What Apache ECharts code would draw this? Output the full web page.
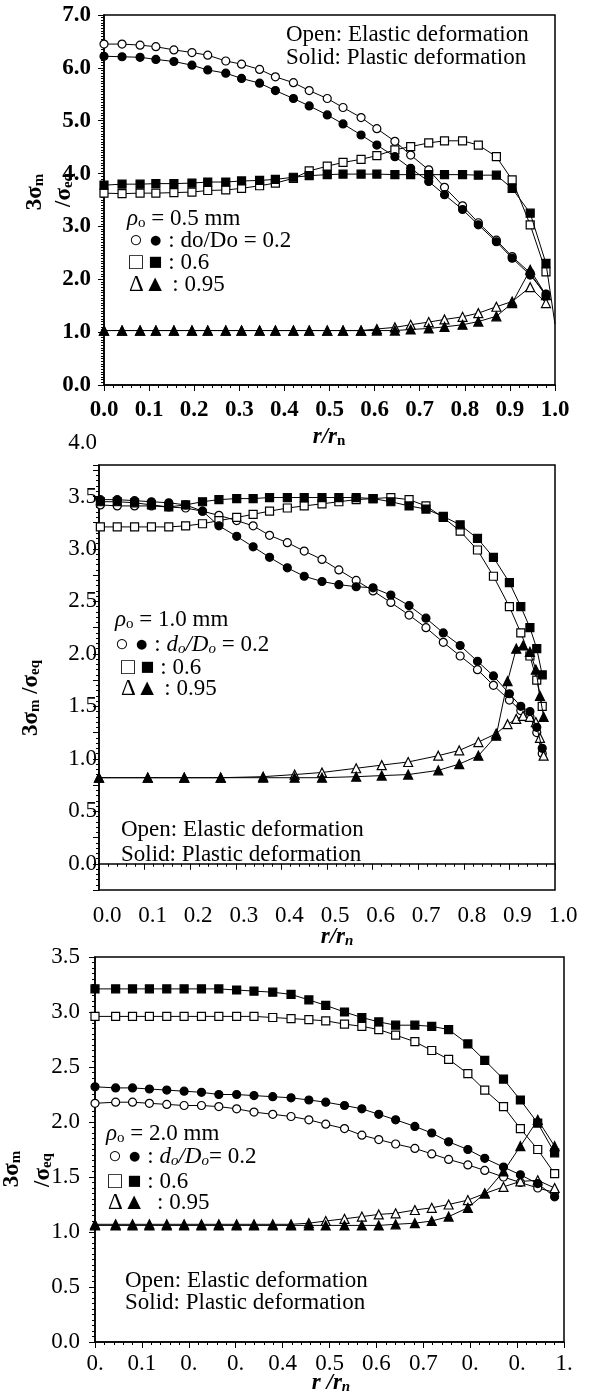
<!DOCTYPE html>
<html>
<head>
<meta charset="UTF-8">
<title>3σm/σeq vs r/rn</title>
<script src="https://cdn.jsdelivr.net/npm/echarts@6.0.0/dist/echarts.min.js"></script>
<style>
  html, body { margin: 0; padding: 0; background: #fff; }
  #main { width: 594px; height: 1399px; }
</style>
</head>
<body>
<div id="main"></div>
<script>
// ---- panel 1 : rho_o = 0.5 mm ----
var P1_R = [0.00,0.04,0.08,0.115,0.155,0.195,0.23,0.27,0.305,0.345,0.38,0.42,0.455,0.495,0.53,0.57,0.605,0.645,0.68,0.72,0.755,0.795,0.83,0.87,0.905,0.945,0.98];
var P1_OPEN_CIRCLE  = [6.45,6.45,6.43,6.40,6.34,6.29,6.24,6.13,6.07,5.97,5.83,5.72,5.57,5.42,5.25,5.06,4.85,4.61,4.35,4.07,3.74,3.39,3.07,2.74,2.43,2.12,1.68];
var P1_SOLID_CIRCLE = [6.22,6.21,6.20,6.16,6.12,6.05,5.96,5.90,5.80,5.71,5.57,5.42,5.28,5.11,4.94,4.73,4.54,4.32,4.10,3.85,3.60,3.32,3.03,2.71,2.40,2.08,1.72];
var P1_OPEN_SQUARE  = [3.63,3.62,3.63,3.63,3.64,3.65,3.68,3.69,3.72,3.77,3.82,3.91,4.05,4.14,4.21,4.27,4.34,4.45,4.51,4.58,4.62,4.62,4.54,4.32,3.88,3.03,2.14];
var P1_SOLID_SQUARE = [3.78,3.80,3.80,3.81,3.81,3.82,3.84,3.84,3.86,3.87,3.89,3.93,3.96,3.98,3.99,3.99,3.99,3.98,3.98,3.98,3.98,3.98,3.97,3.97,3.72,3.25,2.30];
var P1_OPEN_TRI     = [1.03,1.03,1.03,1.03,1.03,1.03,1.03,1.03,1.03,1.03,1.03,1.03,1.03,1.03,1.03,1.03,1.06,1.09,1.14,1.19,1.24,1.29,1.36,1.48,1.58,1.85,1.55];
var P1_SOLID_TRI    = [1.03,1.03,1.03,1.03,1.03,1.03,1.03,1.03,1.03,1.03,1.03,1.03,1.03,1.03,1.03,1.03,1.03,1.03,1.05,1.07,1.10,1.14,1.20,1.30,1.55,2.18,1.70];
// last segment of the solid-square curve runs on to the right border
var P1_SQUARE_TAIL = [1.0, 1.15];

// ---- panel 2 : rho_o = 1.0 mm ----
var P2_R = [0.003,0.04,0.078,0.115,0.153,0.19,0.227,0.263,0.302,0.338,0.374,0.413,0.45,0.489,0.526,0.564,0.601,0.64,0.68,0.717,0.755,0.792,0.83,0.865,0.9,0.925,0.945,0.96,0.972];
var P2_OPEN_CIRCLE  = [3.42,3.41,3.41,3.41,3.40,3.39,3.36,3.32,3.27,3.22,3.13,3.06,2.98,2.90,2.80,2.70,2.60,2.49,2.37,2.25,2.11,1.98,1.85,1.70,1.56,1.46,1.40,1.25,1.05];
var P2_SOLID_CIRCLE = [3.47,3.47,3.46,3.45,3.44,3.42,3.36,3.22,3.12,3.02,2.92,2.82,2.74,2.69,2.66,2.64,2.63,2.56,2.46,2.34,2.20,2.08,1.93,1.79,1.62,1.50,1.45,1.30,1.10];
var P2_OPEN_SQUARE  = [3.21,3.21,3.21,3.21,3.21,3.22,3.24,3.27,3.30,3.33,3.36,3.39,3.41,3.43,3.45,3.47,3.48,3.49,3.47,3.41,3.30,3.17,2.99,2.74,2.45,2.20,1.98,1.75,1.50];
var P2_SOLID_SQUARE = [3.45,3.45,3.44,3.42,3.40,3.42,3.45,3.47,3.48,3.48,3.49,3.49,3.49,3.49,3.49,3.49,3.48,3.45,3.41,3.38,3.31,3.23,3.10,2.92,2.68,2.45,2.25,2.05,1.80];
var P2_TRI_R = [0.0,0.107,0.187,0.267,0.36,0.429,0.489,0.564,0.62,0.678,0.744,0.79,0.832,0.871,0.896,0.915,0.93,0.945,0.958,0.967,0.975];
var P2_OPEN_TRI  = [0.82,0.82,0.82,0.82,0.83,0.85,0.87,0.91,0.94,0.97,1.03,1.08,1.16,1.24,1.33,1.38,1.41,1.40,1.35,1.20,1.03];
var P2_SOLID_TRI = [0.82,0.82,0.82,0.82,0.82,0.82,0.82,0.83,0.84,0.85,0.89,0.95,1.03,1.22,1.74,2.05,2.08,2.02,1.85,1.60,1.40];

// ---- panel 3 : rho_o = 2.0 mm ----
var P3_R = [0.0,0.044,0.08,0.116,0.153,0.19,0.227,0.264,0.302,0.339,0.379,0.418,0.456,0.492,0.532,0.569,0.605,0.641,0.682,0.718,0.754,0.795,0.831,0.871,0.907,0.944,0.98];
var P3_OPEN_CIRCLE  = [2.17,2.18,2.18,2.17,2.16,2.15,2.15,2.14,2.12,2.09,2.07,2.05,2.02,1.98,1.94,1.88,1.84,1.80,1.76,1.71,1.66,1.61,1.56,1.50,1.45,1.40,1.36];
var P3_SOLID_CIRCLE = [2.32,2.31,2.31,2.30,2.29,2.28,2.27,2.25,2.25,2.24,2.23,2.22,2.20,2.18,2.15,2.12,2.07,2.02,1.96,1.90,1.82,1.75,1.67,1.59,1.52,1.44,1.32];
var P3_OPEN_SQUARE  = [2.96,2.96,2.96,2.96,2.96,2.96,2.96,2.96,2.96,2.96,2.95,2.94,2.93,2.92,2.89,2.87,2.84,2.79,2.73,2.65,2.57,2.44,2.29,2.14,1.94,1.75,1.53];
var P3_SOLID_SQUARE = [3.21,3.21,3.21,3.21,3.21,3.21,3.21,3.21,3.20,3.19,3.18,3.16,3.11,3.06,3.00,2.95,2.91,2.88,2.88,2.87,2.84,2.71,2.56,2.39,2.20,1.99,1.72];
var P3_OPEN_TRI     = [1.07,1.07,1.07,1.07,1.07,1.07,1.07,1.07,1.07,1.07,1.07,1.07,1.08,1.10,1.12,1.14,1.16,1.17,1.20,1.22,1.25,1.29,1.35,1.41,1.46,1.47,1.40];
var P3_SOLID_TRI    = [1.06,1.06,1.06,1.06,1.06,1.06,1.06,1.06,1.06,1.06,1.06,1.06,1.06,1.06,1.06,1.06,1.06,1.07,1.08,1.10,1.14,1.22,1.35,1.55,1.78,2.02,1.78];
var P3_X_LABELS = ['0.', '0.1', '0.', '0.', '0.4', '0.5', '0.6', '0.7', '0.', '0.', '1.'];

var FONT = 'Liberation Serif';

function zip(xs, ys) {
  return xs.map(function (x, i) { return [x, ys[i]]; });
}

// one marker-line series; open = white fill, solid = black fill
function curve(grid, xs, ys, symbol, open, size, tail) {
  var data = zip(xs, ys);
  if (tail) {
    data.push({ value: tail, symbol: 'none' });
  }
  return {
    type: 'line',
    xAxisIndex: grid,
    yAxisIndex: grid,
    data: data,
    symbol: symbol,
    symbolSize: size || 8,
    showSymbol: true,
    lineStyle: { color: '#000', width: 1 },
    itemStyle: { color: open ? '#fff' : '#000', borderColor: '#000', borderWidth: 1.2 },
    z: open ? 3 : 4
  };
}

function xAxis(grid, bold, margin, formatter, padLeft) {
  return {
    gridIndex: grid, type: 'value', min: 0, max: 1, interval: 0.1,
    axisLine: { lineStyle: { color: '#000', width: 1.5 } },
    axisTick: { length: 6, lineStyle: { color: '#000' } },
    minorTick: { show: true, splitNumber: 5, length: 3, lineStyle: { color: '#000' } },
    splitLine: { show: false },
    axisLabel: {
      fontFamily: FONT, fontSize: 23, color: '#000', margin: margin,
      fontWeight: bold ? 'bold' : 'normal',
      padding: [0, 0, 0, padLeft || 0],
      formatter: formatter || function (v) { return v.toFixed(1); }
    }
  };
}

function yAxis(grid, min, max, interval, minorSplit, bold, margin, formatter) {
  return {
    gridIndex: grid, type: 'value', min: min, max: max, interval: interval,
    axisLine: { lineStyle: { color: '#000', width: 1.5 } },
    axisTick: { length: 6, lineStyle: { color: '#000' } },
    minorTick: { show: true, splitNumber: minorSplit, length: 3, lineStyle: { color: '#000' } },
    splitLine: { show: false },
    axisLabel: {
      fontFamily: FONT, fontSize: 23, color: '#000', margin: margin,
      fontWeight: bold ? 'bold' : 'normal',
      formatter: formatter || function (v) { return v.toFixed(1); }
    }
  };
}

// rich text styles shared by the annotations
var RICH = {
  n:  { fontFamily: FONT, fontSize: 23, fill: '#000' },
  i:  { fontFamily: FONT, fontSize: 23, fill: '#000', fontStyle: 'italic' },
  s:  { fontFamily: FONT, fontSize: 15, fill: '#000', fontStyle: 'italic', verticalAlign: 'bottom' },
  ns: { fontFamily: FONT, fontSize: 15, fill: '#000', verticalAlign: 'bottom' },
  b:  { fontFamily: FONT, fontSize: 23, fill: '#000', fontWeight: 'bold', fontStyle: 'italic' },
  bs: { fontFamily: FONT, fontSize: 15, fill: '#000', fontWeight: 'bold', fontStyle: 'italic', verticalAlign: 'bottom' },
  t:  { fontFamily: FONT, fontSize: 23, fill: '#000', fontWeight: 'bold' },
  ts: { fontFamily: FONT, fontSize: 15, fill: '#000', fontWeight: 'bold', verticalAlign: 'bottom' }
};

function txt(x, y, text, align, rot) {
  return {
    type: 'text', x: x, y: y, rotation: rot || 0, z: 10,
    style: {
      text: text, rich: RICH, align: align || 'left', verticalAlign: 'middle',
      font: '23px "Liberation Serif"', fill: '#000'
    }
  };
}

var graphics = [
  // panel 1
  txt(286, 35, '{n|Open: Elastic deformation}'),
  txt(286, 58, '{n|Solid: Plastic deformation}'),
  txt(127, 219, '{i|ρ}{ns|o}{n| = 0.5 mm}'),
  txt(129, 241, '{n|○ ● : do/Do = 0.2}'),
  txt(129, 263, '{n|□ ■ : 0.6}'),
  txt(129, 285, '{n|Δ▲ : 0.95}'),
  txt(329, 437, '{b|r/r}{ts|n}', 'center'),
  txt(35, 192, '{t|3σ}{ts|m}', 'center', Math.PI / 2),
  txt(64, 190, '{t|/σ}{ts|eq}', 'center', Math.PI / 2),
  // panel 2
  txt(97, 443, '{n|4.0}', 'right'),
  txt(115, 620, '{i|ρ}{ns|o}{n| = 1.0 mm}'),
  txt(115, 645, '{n|○ ● : }{i|d}{s|o}{i|/D}{s|o}{n| = 0.2}'),
  txt(121, 668, '{n|□ ■ : 0.6}'),
  txt(121, 689, '{n|Δ▲ : 0.95}'),
  txt(121, 830, '{n|Open: Elastic deformation}'),
  txt(121, 855, '{n|Solid: Plastic deformation}'),
  txt(337, 937, '{b|r/r}{bs|n}', 'center'),
  txt(31, 698, '{t|3σ}{ts|m}{t| /σ}{ts|eq}', 'center', Math.PI / 2),
  // panel 3
  txt(106, 1134, '{i|ρ}{ns|o}{n| = 2.0 mm}'),
  txt(108, 1157, '{n|○ ● : }{i|d}{s|o}{i|/D}{s|o}{n|= 0.2}'),
  txt(108, 1182, '{n|□ ■ : 0.6}'),
  txt(108, 1203, '{n|Δ▲  : 0.95}'),
  txt(125, 1281, '{n|Open: Elastic deformation}'),
  txt(125, 1303, '{n|Solid: Plastic deformation}'),
  txt(331, 1383, '{b|r /r}{bs|n}', 'center'),
  txt(12, 1169, '{t|3σ}{ts|m}', 'center', Math.PI / 2),
  txt(43, 1170, '{t|/σ}{ts|eq}', 'center', Math.PI / 2)
];

var halfStep = function (v) {
  return (v >= 0 && Math.abs(v * 2 - Math.round(v * 2)) < 1e-6) ? v.toFixed(1) : '';
};

var option = {
  animation: false,
  backgroundColor: '#fff',
  grid: [
    { left: 104, top: 15, width: 451, height: 370, show: true, borderColor: '#000', borderWidth: 1.5 },
    { left: 99, top: 465, width: 456, height: 425, show: true, borderColor: '#000', borderWidth: 1.5 },
    { left: 95, top: 957, width: 469, height: 385, show: true, borderColor: '#000', borderWidth: 1.5 }
  ],
  xAxis: [
    xAxis(0, true, 14),
    xAxis(1, false, 14, null, 16),
    xAxis(2, false, 10, function (v) { return P3_X_LABELS[Math.round(v * 10)]; })
  ],
  yAxis: [
    yAxis(0, 0, 7, 1, 20, true, 13),
    yAxis(1, -0.25, 3.8, 0.25, 5, false, 2, halfStep),
    yAxis(2, 0, 3.5, 0.5, 10, false, 15)
  ],
  graphic: graphics,
  series: [
    curve(0, P1_R, P1_OPEN_CIRCLE, 'circle', true),
    curve(0, P1_R, P1_SOLID_CIRCLE, 'circle', false),
    curve(0, P1_R, P1_OPEN_SQUARE, 'rect', true),
    curve(0, P1_R, P1_SOLID_SQUARE, 'rect', false, 8, P1_SQUARE_TAIL),
    curve(0, P1_R, P1_OPEN_TRI, 'triangle', true, 9),
    curve(0, P1_R, P1_SOLID_TRI, 'triangle', false, 9),

    curve(1, P2_R, P2_OPEN_CIRCLE, 'circle', true),
    curve(1, P2_R, P2_SOLID_CIRCLE, 'circle', false),
    curve(1, P2_R, P2_OPEN_SQUARE, 'rect', true),
    curve(1, P2_R, P2_SOLID_SQUARE, 'rect', false),
    curve(1, P2_TRI_R, P2_OPEN_TRI, 'triangle', true, 9),
    curve(1, P2_TRI_R, P2_SOLID_TRI, 'triangle', false, 9),

    curve(2, P3_R, P3_OPEN_CIRCLE, 'circle', true),
    curve(2, P3_R, P3_SOLID_CIRCLE, 'circle', false),
    curve(2, P3_R, P3_OPEN_SQUARE, 'rect', true),
    curve(2, P3_R, P3_SOLID_SQUARE, 'rect', false),
    curve(2, P3_R, P3_OPEN_TRI, 'triangle', true, 9),
    curve(2, P3_R, P3_SOLID_TRI, 'triangle', false, 9)
  ]
};

var myChart = echarts.init(document.getElementById('main'));
myChart.setOption(option);
</script>
</body>
</html>
